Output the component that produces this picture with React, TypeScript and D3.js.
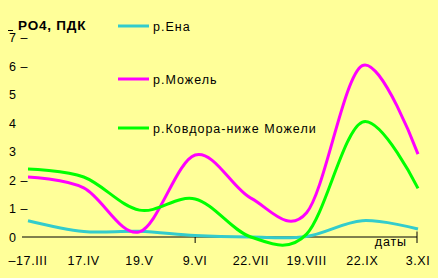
import React from "react";
import * as d3 from "d3";

const dates = ["17.III", "17.IV", "19.V", "9.VI", "22.VII", "19.VIII", "22.IX", "3.XI"];
const ena = [0.57, 0.19, 0.2, 0.05, 0.0, 0.02, 0.57, 0.28];
const mozel = [2.1, 1.72, 0.18, 2.87, 1.36, 0.85, 6.0, 2.9];
const kovdor = [2.38, 2.1, 0.94, 1.33, 0.0, 0.1, 4.02, 1.7];
const yTicks = [0, 1, 2, 3, 4, 5, 6, 7];
const yDash = [7, 6, 2, 1];

const series = [
  { name: "р.Ена", values: ena, color: "#33CCCC" },
  { name: "р.Можель", values: mozel, color: "#FF00FF" },
  { name: "р.Ковдора-ниже Можели", values: kovdor, color: "#00FF00" },
];

export default function App() {
  const W = 438, H = 278;
  const x = d3.scalePoint<string>().domain(dates).range([28, 418]);
  const y = d3.scaleLinear().domain([0, 7]).range([237, 37]);
  const line = d3
    .line<number>()
    .x((_, i) => x(dates[i]) as number)
    .y((d) => y(d))
    .curve(d3.curveCardinal.tension(0));
  const legendY = [26, 79, 128];
  const font = "'Liberation Sans', Arial, sans-serif";
  return (
    <svg
      width={W}
      height={H}
      style={{ position: "absolute", left: 0, top: 0, display: "block" }}
      fontFamily={font}
    >
      <rect x={0} y={0} width={W} height={H} fill="#FFFF99" />
      {/* title */}
      <line x1={8} x2={13} y1={30.5} y2={30.5} stroke="#000" strokeWidth={1} />
      <text x={18} y={30} fontSize={13.5} fontWeight="bold" letterSpacing={0.8} fill="#000">
        РО4, ПДК
      </text>
      {/* y labels */}
      {yTicks.map((t) => (
        <text key={t} x={9} y={y(t) + 5} fontSize={12.5} letterSpacing={0.5} fill="#000">
          {String(t)}
          {yDash.includes(t) ? " –" : ""}
        </text>
      ))}
      {/* x axis */}
      <line x1={22} x2={417} y1={y(0)} y2={y(0)} stroke="#000" strokeWidth={1} />
      <line x1={x("9.VI")} x2={x("9.VI")} y1={y(0)} y2={y(0) + 6} stroke="#000" strokeWidth={1} />
      <line x1={417} x2={417} y1={y(0) - 5.5} y2={y(0) + 6} stroke="#000" strokeWidth={1} />
      <text x={407} y={246} fontSize={12.5} letterSpacing={0.9} textAnchor="end" fill="#000">
        даты
      </text>
      {dates.map((d, i) => (
        <text
          key={d}
          x={x(d) as number}
          y={265}
          fontSize={12.5}
          letterSpacing={0.6}
          textAnchor="middle"
          fill="#000"
        >
          {i === 0 ? "–" + d : d}
        </text>
      ))}
      {/* lines */}
      {series.map((s) => (
        <path
          key={s.name}
          d={line(s.values) || ""}
          fill="none"
          stroke={s.color}
          strokeWidth={3}
          strokeLinejoin="round"
        />
      ))}
      {/* legend */}
      {series.map((s, i) => (
        <g key={s.name}>
          <line x1={118} x2={149} y1={legendY[i]} y2={legendY[i]} stroke={s.color} strokeWidth={3} />
          <text x={153} y={legendY[i] + 4.5} fontSize={12.5} letterSpacing={1} fill="#000">
            {s.name}
          </text>
        </g>
      ))}
    </svg>
  );
}
